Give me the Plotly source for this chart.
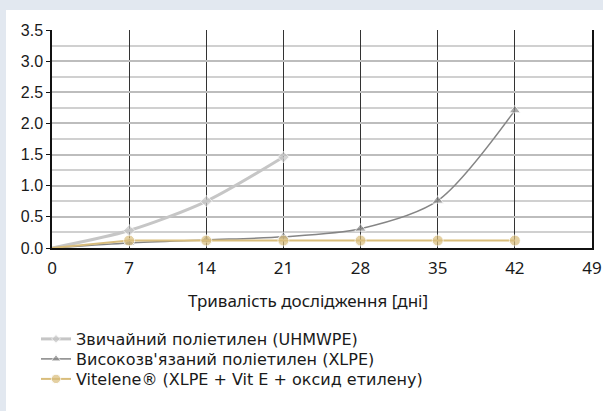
import plotly.graph_objects as go

# Study days and measured values for each material
days = [0, 7, 14, 21, 28, 35, 42]
uhmwpe_days = [0, 7, 14, 21]
uhmwpe = [0.0, 0.28, 0.75, 1.46]
xlpe = [0.0, 0.08, 0.13, 0.18, 0.31, 0.76, 2.21]
vitelene = [0.0, 0.12, 0.12, 0.12, 0.12, 0.12, 0.12]

names = [
    "Звичайний поліетилен (UHMWPE)",
    "Високозв'язаний поліетилен (XLPE)",
    "Vitelene® (XLPE + Vit E + оксид етилену)",
]
x_ticks = [0, 7, 14, 21, 28, 35, 42, 49]
y_ticks = [0.0, 0.5, 1.0, 1.5, 2.0, 2.5, 3.0, 3.5]
x_title = "Тривалість дослідження [дні]"

C_UHMWPE = "#c6c6c6"
C_XLPE = "#858585"
C_VIT = "#d9bd7b"
BG = "#e2e8f0"
FONT = "Noto Sans"
LEGEND_FONT = "DejaVu Sans"

W, H = 603, 411
ML, MR, MT, MB = 52, 11, 30, 163
PW, PH = W - ML - MR, H - MT - MB


def px_to_paper_x(px):
    return (px - ML) / PW


def px_to_paper_y(py):
    return (H - MB - py) / PH


def sizes(n, s):
    # no marker at the origin point
    return [0] + [s] * (n - 1)


fig = go.Figure()
fig.add_trace(go.Scatter(
    x=uhmwpe_days, y=uhmwpe, name=names[0], mode="lines+markers",
    line=dict(color=C_UHMWPE, width=3, shape="spline", smoothing=0.8),
    marker=dict(symbol="diamond", size=sizes(len(uhmwpe), 9), color=C_UHMWPE),
    legend="legend",
))
fig.add_trace(go.Scatter(
    x=days, y=xlpe, name=names[1], mode="lines+markers",
    line=dict(color=C_XLPE, width=1.5, shape="spline", smoothing=0.8),
    marker=dict(symbol="triangle-up", size=sizes(len(xlpe), 10), color=C_XLPE),
    legend="legend2",
))
fig.add_trace(go.Scatter(
    x=days, y=vitelene, name=names[2], mode="lines+markers",
    line=dict(color=C_VIT, width=2),
    marker=dict(symbol="circle", size=sizes(len(vitelene), 11), color=C_VIT),
    legend="legend3",
))

# white card behind the chart
fig.add_shape(
    type="rect", xref="paper", yref="paper", layer="below",
    x0=px_to_paper_x(6), x1=px_to_paper_x(W + 5),
    y0=px_to_paper_y(H + 5), y1=px_to_paper_y(10),
    fillcolor="white", line=dict(width=0),
)

fig.add_annotation(
    text=x_title, xref="paper", yref="paper",
    x=px_to_paper_x(308), y=px_to_paper_y(300),
    xanchor="center", yanchor="middle", showarrow=False,
    font=dict(family=FONT, size=17, color="#1a1a1a"),
)

fig.update_xaxes(
    range=[0, 49], tickvals=x_ticks, ticktext=[str(v) for v in x_ticks],
    showgrid=True, gridcolor="#333333", gridwidth=1.3,
    showline=True, linecolor="#111", linewidth=1.5,
    zeroline=False, ticks="", ticklabelstandoff=4,
    tickfont=dict(family=FONT, size=17, color="#1a1a1a"),
)
fig.update_yaxes(
    range=[0, 3.5], tickvals=y_ticks, ticktext=[f"{v:.1f}" for v in y_ticks],
    showgrid=True, gridcolor="#bdbdbd", gridwidth=1.5,
    minor=dict(dtick=0.25, showgrid=True, gridcolor="#d0d0d0", gridwidth=1.5),
    showline=True, linecolor="#111", linewidth=1.5, mirror=True,
    zeroline=False, ticks="outside", ticklen=4, tickcolor="#111",
    tickfont=dict(family="Liberation Sans", size=16, color="#1a1a1a"),
)

legend_rows = [339, 359, 379]
legend_style = dict(
    x=px_to_paper_x(36), xanchor="left", yanchor="middle",
    bgcolor="rgba(0,0,0,0)",
    font=dict(family=LEGEND_FONT, size=16, color="#1a1a1a"),
    itemwidth=30,
)

fig.update_layout(
    width=W, height=H,
    margin=dict(l=ML, r=MR, t=MT, b=MB, autoexpand=False),
    paper_bgcolor=BG, plot_bgcolor="white",
    showlegend=True,
    legend=dict(y=px_to_paper_y(legend_rows[0]), **legend_style),
    legend2=dict(y=px_to_paper_y(legend_rows[1]), **legend_style),
    legend3=dict(y=px_to_paper_y(legend_rows[2]), **legend_style),
)

fig.write_html("out.html")
